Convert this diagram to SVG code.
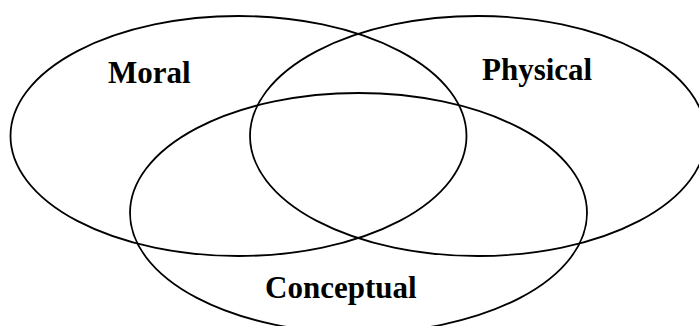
<svg xmlns="http://www.w3.org/2000/svg" width="699" height="326" viewBox="0 0 699 326">
<style>
.e{fill:none;stroke:#000;stroke-width:1.8}
.t{font-family:"Liberation Serif","Times New Roman",serif;font-weight:bold;font-size:31px;fill:#000}
</style>
<rect width="699" height="326" fill="#fff"/>
<g id="moral"><ellipse class="e" cx="238.5" cy="136" rx="228" ry="120"/><text class="t" x="108" y="83">Moral</text></g>
<g id="physical"><ellipse class="e" cx="478" cy="136" rx="228" ry="120"/><text class="t" x="482" y="80">Physical</text></g>
<g id="conceptual"><ellipse class="e" cx="358.5" cy="213" rx="228.5" ry="120"/><text class="t" x="265" y="298">Conceptual</text></g>
<g id="connectors"/>
</svg>
